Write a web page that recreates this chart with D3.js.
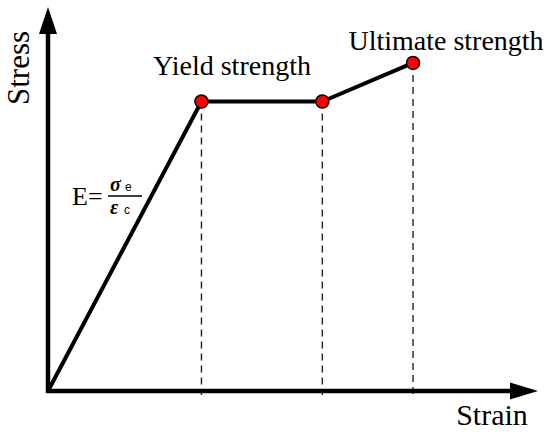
<!DOCTYPE html>
<html><head><meta charset="utf-8">
<script src="https://cdn.jsdelivr.net/npm/d3@7"></script>
<style>body{margin:0;background:#fff}svg{display:block}</style>
</head><body>
<script>
const strain = [0, 33, 59, 78.5];
const stress = [0, 75, 75, 85];
const markedIdx = [1, 2, 3];
const labels = [{text:"Yield strength", i:1}, {text:"Ultimate strength", i:3}];
const axisLabels = {x:"Strain", y:"Stress"};

const W=550,H=433;
const svg=d3.select("body").append("svg").attr("width",W).attr("height",H);
const x=d3.scaleLinear().domain([0,100]).range([48,513]);
const y=d3.scaleLinear().domain([0,100]).range([391,5]);
const font="'Liberation Serif','Times New Roman',serif";
const sans="'Liberation Sans',Arial,sans-serif";

// dashed guides
markedIdx.forEach(i=>{
  svg.append("line").attr("x1",x(strain[i])).attr("x2",x(strain[i]))
    .attr("y1",y(stress[i])).attr("y2",y(0)+4)
    .attr("stroke","#222").attr("stroke-width",1.4).attr("stroke-dasharray","7,5");
});
// axes
const x0=x(0), y0=y(0);
svg.append("line").attr("x1",x0-2).attr("x2",x(100)).attr("y1",y0).attr("y2",y0).attr("stroke","#000").attr("stroke-width",4.5);
svg.append("line").attr("x1",x0).attr("x2",x0).attr("y1",y0+2).attr("y2",y(100)+28).attr("stroke","#000").attr("stroke-width",4.5);
svg.append("path").attr("d",`M${x(100)+25},${y0} L${x(100)-3},${y0-8.5} L${x(100)-3},${y0+8.5}Z`).attr("fill","#000");
svg.append("path").attr("d",`M${x0},${y(100)+2} L${x0-9},${y(100)+29} L${x0+9},${y(100)+29}Z`).attr("fill","#000");

// curve
const line=d3.line().x((d,i)=>x(strain[i])).y((d,i)=>y(stress[i]));
svg.append("path").datum(stress).attr("d",line).attr("fill","none").attr("stroke","#000").attr("stroke-width",4).attr("stroke-linejoin","round");
svg.selectAll("circle.pt").data(markedIdx).enter().append("circle")
  .attr("cx",i=>x(strain[i])).attr("cy",i=>y(stress[i])).attr("r",6.5)
  .attr("fill","#f00").attr("stroke","#000").attr("stroke-width",1.5);

// labels
svg.append("text").attr("x",232).attr("y",75).attr("text-anchor","middle").attr("font-family",font).attr("font-size",28).text(labels[0].text);
svg.append("text").attr("x",446).attr("y",50).attr("text-anchor","middle").attr("font-family",font).attr("font-size",28).text(labels[1].text);
svg.append("text").attr("x",492).attr("y",425).attr("text-anchor","middle").attr("font-family",font).attr("font-size",30).text(axisLabels.x);
svg.append("text").attr("transform","translate(29,68) rotate(-90)").attr("text-anchor","middle").attr("font-family",font).attr("font-size",31).text(axisLabels.y);

// formula
const f=svg.append("g").attr("font-family",font);
f.append("text").attr("x",72).attr("y",205).attr("font-size",26).text("E=");
f.append("text").attr("x",110).attr("y",191).attr("font-size",20).attr("font-style","italic").attr("font-weight","bold").text("σ");
f.append("text").attr("x",125).attr("y",191).attr("font-size",12).attr("font-family",sans).text("e");
f.append("line").attr("x1",108).attr("x2",142).attr("y1",196).attr("y2",196).attr("stroke","#000").attr("stroke-width",1.5);
f.append("text").attr("x",110).attr("y",214).attr("font-size",20).attr("font-style","italic").attr("font-weight","bold").text("ε");
f.append("text").attr("x",124).attr("y",214).attr("font-size",12).attr("font-family",sans).text("c");
</script>
</body></html>
